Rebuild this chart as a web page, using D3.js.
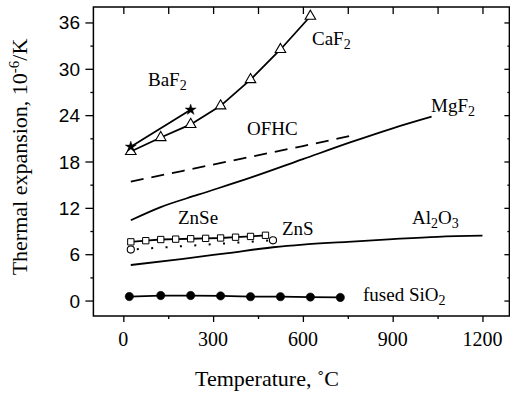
<html>
<head>
<style>
  body { margin: 0; background: #fff; }
  svg { display: block; }
  .lbl { font-family: 'Liberation Serif', 'Times New Roman', serif; font-size: 19px; }
  .xtick { font-family: 'Liberation Serif', 'Times New Roman', serif; font-size: 20px; }
  .ytick { font-family: 'Liberation Sans', Arial, sans-serif; font-size: 19px; }
  .title { font-family: 'Liberation Serif', 'Times New Roman', serif; font-size: 22px; }
</style>
</head>
<body>
<script src="https://cdn.jsdelivr.net/npm/d3@7/dist/d3.min.js"></script>
<script>

// data (temperature in C, expansion in 1e-6/K)
var baf2T = [25, 225];
var baf2 = [19.9, 24.7];

var caf2T = [25, 125, 225, 325, 425, 525, 625];
var caf2 = [19.3, 21.1, 22.8, 25.2, 28.6, 32.5, 36.8];

var ofhcT = [25, 200, 400, 600, 780];
var ofhc = [15.4, 16.8, 18.4, 20.0, 21.5];

var mgf2T = [25, 125, 250, 425, 600, 760, 900, 1030];
var mgf2 = [10.4, 12.1, 13.7, 15.9, 18.3, 20.5, 22.3, 23.8];

var znseT = [25, 75, 125, 175, 225, 275, 325, 375, 425, 475];
var znse = [7.6, 7.75, 7.9, 7.95, 8.0, 8.05, 8.1, 8.2, 8.3, 8.45];

var znsT = [25, 500];
var zns = [6.6, 7.8];

var al2o3T = [25, 200, 350, 500, 600, 750, 900, 1050, 1200];
var al2o3 = [4.6, 5.4, 6.15, 6.9, 7.25, 7.6, 7.95, 8.25, 8.4];

var sio2T = [20, 125, 225, 325, 425, 525, 625, 725];
var sio2 = [0.52, 0.65, 0.65, 0.6, 0.5, 0.5, 0.45, 0.4];

var xTicks = [0, 300, 600, 900, 1200];
var yTicks = [0, 6, 12, 18, 24, 30, 36];

var width = 510;
var height = 396;

var svg = d3.select('body').append('svg')
  .attr('width', width)
  .attr('height', height);

var x = d3.scaleLinear().domain([-100, 1290]).range([93.4, 509.4]);
var y = d3.scaleLinear().domain([-2, 38]).range([316, 7]);

function pts (ts, vs) {
  return ts.map(function (t, i) { return [t, vs[i]]; });
}

var line = d3.line()
  .x(function (d) { return x(d[0]); })
  .y(function (d) { return y(d[1]); });

var smooth = d3.line()
  .x(function (d) { return x(d[0]); })
  .y(function (d) { return y(d[1]); })
  .curve(d3.curveMonotoneX);

// axes: left/bottom ticks outward, top/right inward
var minorX = d3.range(0, 1201, 150);
var minorY = d3.range(3, 37, 6);

svg.append('g').attr('transform', 'translate(' + x.range()[0] + ',0)')
  .call(d3.axisLeft(y).tickValues(yTicks).tickSize(8).tickFormat(''))
  .call(function (g) { g.select('.domain').remove(); });
svg.append('g').attr('transform', 'translate(' + x.range()[0] + ',0)')
  .call(d3.axisLeft(y).tickValues(minorY).tickSize(3).tickFormat(''))
  .call(function (g) { g.select('.domain').remove(); });

svg.append('g').attr('transform', 'translate(' + x.range()[1] + ',0)')
  .call(d3.axisLeft(y).tickValues(yTicks).tickFormat(''))
  .call(function (g) { g.select('.domain').remove(); g.selectAll('line').attr('x2', -5); });
svg.append('g').attr('transform', 'translate(' + x.range()[1] + ',0)')
  .call(d3.axisLeft(y).tickValues(minorY).tickFormat(''))
  .call(function (g) { g.select('.domain').remove(); g.selectAll('line').attr('x2', -2); });

svg.append('g').attr('transform', 'translate(0,' + y.range()[0] + ')')
  .call(d3.axisBottom(x).tickValues(xTicks).tickSize(6).tickFormat(''))
  .call(function (g) { g.select('.domain').remove(); });
svg.append('g').attr('transform', 'translate(0,' + y.range()[0] + ')')
  .call(d3.axisBottom(x).tickValues([150, 450, 750, 1050]).tickSize(3).tickFormat(''))
  .call(function (g) { g.select('.domain').remove(); });

svg.append('g').attr('transform', 'translate(0,' + y.range()[1] + ')')
  .call(d3.axisTop(x).tickValues(minorX).tickFormat(''))
  .call(function (g) { g.select('.domain').remove(); g.selectAll('line').attr('y2', 7); });

svg.selectAll('.tick line').attr('stroke', '#000').attr('stroke-width', 1.3);

// frame
svg.append('rect')
  .attr('x', x.range()[0]).attr('y', y.range()[1])
  .attr('width', x.range()[1] - x.range()[0])
  .attr('height', y.range()[0] - y.range()[1])
  .attr('fill', 'none').attr('stroke', '#000').attr('stroke-width', 1.5);

// tick labels
svg.selectAll('.xtick').data(xTicks).enter().append('text')
  .attr('class', 'xtick')
  .attr('x', function (d) { return x(d); })
  .attr('y', 346)
  .attr('text-anchor', 'middle')
  .text(function (d) { return d; });

svg.selectAll('.ytick').data(yTicks).enter().append('text')
  .attr('class', 'ytick')
  .attr('x', 80)
  .attr('y', function (d) { return y(d) + 7; })
  .attr('text-anchor', 'end')
  .text(function (d) { return d; });

// series lines
function drawLine (data, gen, dash) {
  svg.append('path')
    .datum(data)
    .attr('d', gen)
    .attr('fill', 'none')
    .attr('stroke', '#000')
    .attr('stroke-width', 1.8)
    .attr('stroke-dasharray', dash || null);
}

drawLine(pts(ofhcT, ofhc), line, '13,8');
drawLine(pts(mgf2T, mgf2), smooth);
drawLine(pts(al2o3T, al2o3), smooth);
drawLine(pts(sio2T, sio2), line);
drawLine(pts(caf2T, caf2), line);
drawLine(pts(baf2T, baf2), line);
drawLine(pts(znseT, znse), line);

svg.append('path')
  .datum(pts(znsT, zns))
  .attr('d', line)
  .attr('fill', 'none')
  .attr('stroke', '#000')
  .attr('stroke-width', 2)
  .attr('stroke-dasharray', '2,12.4')
  .attr('stroke-dashoffset', -6);

// markers
function drawMarks (data, type, size, fill, sw) {
  svg.append('g').selectAll('path')
    .data(data)
    .enter().append('path')
    .attr('transform', function (d) { return 'translate(' + x(d[0]) + ',' + y(d[1]) + ')'; })
    .attr('d', d3.symbol().type(type).size(size))
    .attr('fill', fill)
    .attr('stroke', '#000')
    .attr('stroke-width', sw);
}

drawMarks(pts(caf2T, caf2), d3.symbolTriangle, 48, '#fff', 1.1);
drawMarks(pts(baf2T, baf2), d3.symbolStar, 38, '#000', 0.4);
drawMarks(pts(znseT, znse), d3.symbolSquare, 40, '#fff', 1);
drawMarks(pts(znsT, zns), d3.symbolCircle, 40, '#fff', 1.1);
drawMarks(pts(sio2T, sio2), d3.symbolCircle, 55, '#000', 0.5);

// labels: '_' marks a subscript digit
var labels = [
  ['BaF_2', 148, 86],
  ['CaF_2', 312, 45],
  ['OFHC', 247, 135],
  ['MgF_2', 431, 112],
  ['ZnSe', 178, 224],
  ['ZnS', 282, 235],
  ['Al_2O_3', 412, 224],
  ['fused SiO_2', 363, 301]
];

labels.forEach(function (l) {
  var t = svg.append('text').attr('class', 'lbl').attr('x', l[1]).attr('y', l[2]);
  var parts = l[0].split('_');
  t.append('tspan').text(parts[0]);
  for (var i = 1; i < parts.length; i++) {
    t.append('tspan').attr('dy', 4).attr('font-size', 14).text(parts[i][0]);
    if (parts[i].length > 1) {
      t.append('tspan').attr('dy', -4).text(parts[i].slice(1));
    }
  }
});

// axis titles
svg.append('text')
  .attr('class', 'title')
  .attr('x', 267)
  .attr('y', 386)
  .attr('text-anchor', 'middle')
  .text('Temperature, \u02DAC');

var yt = svg.append('text')
  .attr('class', 'title')
  .attr('font-size', 24)
  .attr('text-anchor', 'middle')
  .attr('transform', 'translate(27,157) rotate(-90)');
yt.append('tspan').text('Thermal expansion, 10');
yt.append('tspan').attr('dy', -8).attr('font-size', 15).text('-6');
yt.append('tspan').attr('dy', 8).text('/K');

</script>
</body>
</html>
